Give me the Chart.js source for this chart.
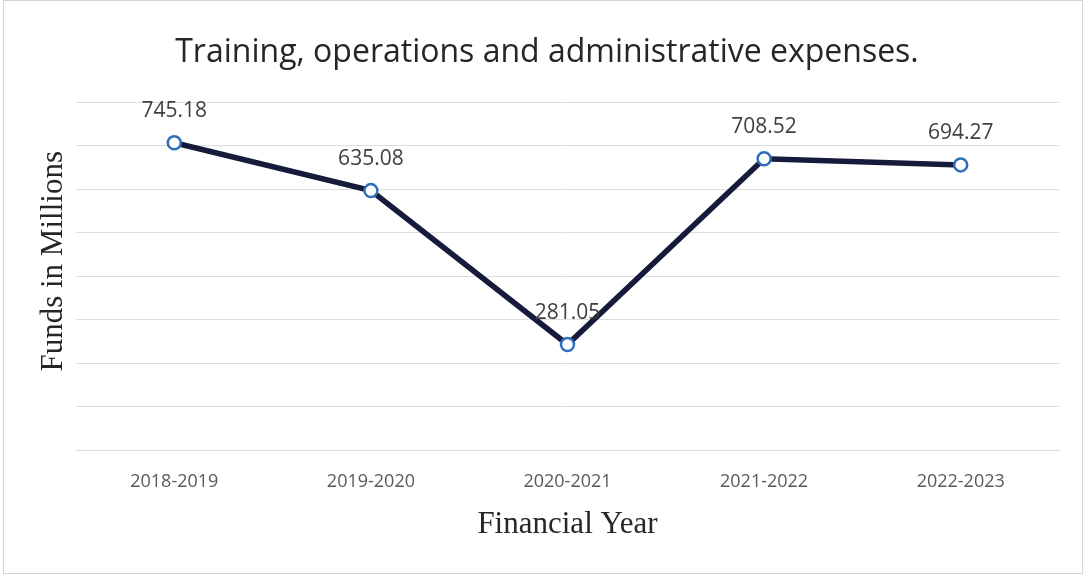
<!DOCTYPE html>
<html>
<head>
<meta charset="utf-8">
<script src="https://cdn.jsdelivr.net/npm/chart.js@4.4.0/dist/chart.umd.min.js"></script>
<style>
  html, body { margin: 0; padding: 0; background: #fff; }
  #wrap { position: relative; width: 1090px; height: 575px; }
  #frame { position: absolute; left: 3px; top: 0; width: 1078px; height: 572px; border: 1px solid #d4d4d8; pointer-events: none; }
</style>
</head>
<body>
<div id="wrap">
  <canvas id="chart"></canvas>
  <div id="frame"></div>
</div>
<script>
const years = ["2018-2019", "2019-2020", "2020-2021", "2021-2022", "2022-2023"];
const expenses = [745.18, 635.08, 281.05, 708.52, 694.27];
const yMin = 38;
const yMax = 838;
const yStep = 100;

// value labels above each point
const pointLabels = {
    id: 'pointLabels',
    afterDatasetsDraw(chart) {
        const ctx = chart.ctx;
        const meta = chart.getDatasetMeta(0);
        ctx.save();
        ctx.font = '21px "Open Sans"';
        ctx.fillStyle = '#404040';
        ctx.textAlign = 'center';
        ctx.textBaseline = 'middle';
        meta.data.forEach((pt, i) => {
            ctx.fillText(expenses[i].toFixed(2), pt.x, pt.y - 32);
        });
        ctx.restore();
    }
};

// y axis title, sits a bit above the plot's middle like the original
const yTitle = {
    id: 'yTitle',
    afterDraw(chart) {
        const ctx = chart.ctx;
        const a = chart.chartArea;
        ctx.save();
        ctx.translate(54, (a.top + a.bottom) / 2 - 15);
        ctx.rotate(-Math.PI / 2);
        ctx.font = '31px "Liberation Serif"';
        ctx.fillStyle = '#262626';
        ctx.textAlign = 'center';
        ctx.textBaseline = 'middle';
        ctx.fillText('Funds in Millions', 0, 0);
        ctx.restore();
    }
};

new Chart(document.getElementById('chart'), {
    type: 'line',
    data: {
        labels: years,
        datasets: [{
            data: expenses,
            borderColor: '#171b3b',
            borderWidth: 5.5,
            pointRadius: 6.5,
            pointBorderWidth: 2.5,
            pointBorderColor: '#2f6fba',
            pointBackgroundColor: '#ffffff',
            tension: 0
        }]
    },
    options: {
        responsive: true,
        maintainAspectRatio: false,
        animation: false,
        layout: { padding: { left: 35, right: 31, top: 0, bottom: 32 } },
        plugins: {
            legend: { display: false },
            tooltip: { enabled: false },
            title: {
                display: true,
                text: 'Training, operations and administrative expenses.',
                color: '#262626',
                font: { family: 'Open Sans', size: 32, weight: 'normal' },
                padding: { top: 34, bottom: 30 }
            }
        },
        scales: {
            x: {
                offset: true,
                grid: { display: false },
                border: { display: true, color: '#d9d9de' },
                ticks: { color: '#595959', font: { family: 'Open Sans', size: 18 }, padding: 13 },
                title: {
                    display: true,
                    text: 'Financial Year',
                    color: '#262626',
                    font: { family: 'Liberation Serif', size: 31 },
                    padding: { top: 0, bottom: 0 }
                }
            },
            y: {
                min: yMin,
                max: yMax,
                afterBuildTicks(scale) {
                    const t = [];
                    for (let v = yMin; v <= yMax; v += yStep) t.push({ value: v });
                    scale.ticks = t;
                },
                afterFit(scale) { scale.width = 41; },
                grid: { color: '#dcdce2', drawTicks: false },
                border: { display: false },
                ticks: { display: false }
            }
        }
    },
    plugins: [pointLabels, yTitle]
});
</script>
</body>
</html>
